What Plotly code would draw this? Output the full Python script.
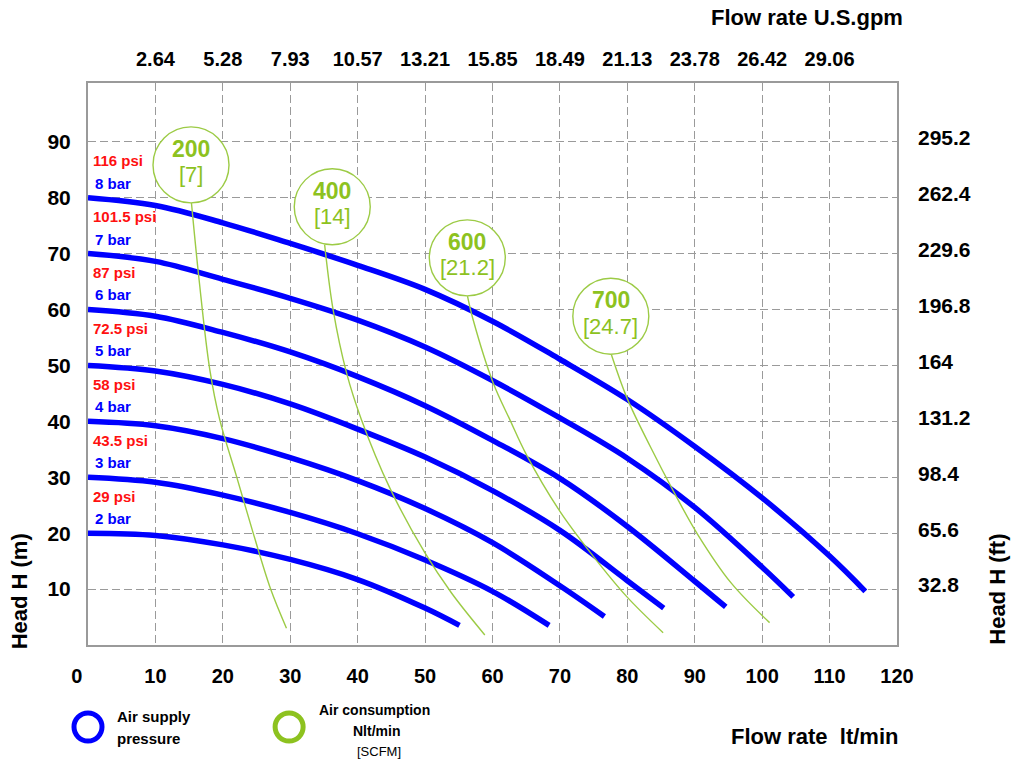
import plotly.graph_objects as go

# ---------------- data ----------------
flow_ticks = [0, 10, 20, 30, 40, 50, 60, 70, 80, 90, 100, 110, 120]
flow_tick_labels = ["0&nbsp;&nbsp;&nbsp;&nbsp;", "10", "20", "30", "40", "50", "60",
                    "70", "80", "90", "100", "110", "120"]
gpm_ticks = [10, 20, 30, 40, 50, 60, 70, 80, 90, 100, 110]
gpm_labels = ["2.64", "5.28", "7.93", "10.57", "13.21", "15.85", "18.49",
              "21.13", "23.78", "26.42", "29.06"]
head_ticks = [10, 20, 30, 40, 50, 60, 70, 80, 90]
ft_ticks = [32.8, 65.6, 98.4, 131.2, 164, 196.8, 229.6, 262.4, 295.2]
ft_labels = ["32.8", "65.6", "98.4", "131.2", "164", "196.8", "229.6", "262.4", "295.2"]

# air supply pressure curves (flow lt/min, head m)
q_8bar = [0, 10, 20, 30, 40, 50, 60, 70, 80, 90, 100, 110, 115.3]
h_8bar = [80, 78.6, 75.5, 71.8, 67.9, 63.6, 57.9, 51.1, 43.9, 35.5, 26.3, 15.9, 9.6]
q_7bar = [0, 10, 20, 30, 40, 50, 60, 70, 80, 90, 100, 104.6]
h_7bar = [70, 68.6, 65.4, 62.0, 58.1, 53.3, 47.3, 40.6, 33.4, 24.6, 13.9, 8.6]
q_6bar = [0, 10, 20, 30, 40, 50, 60, 70, 80, 90, 94.6]
h_6bar = [60, 58.8, 55.9, 52.4, 48.0, 42.8, 36.6, 29.8, 21.2, 11.4, 6.8]
q_5bar = [0, 10, 20, 30, 40, 50, 60, 70, 80, 85.4]
h_5bar = [50, 49.0, 46.6, 43.1, 38.6, 33.6, 27.6, 20.5, 11.5, 6.6]
q_4bar = [0, 10, 20, 30, 40, 50, 60, 70, 76.6]
h_4bar = [40, 39.2, 36.9, 33.5, 29.4, 24.4, 18.3, 10.6, 5.1]
q_3bar = [0, 10, 20, 30, 40, 50, 60, 68.4]
h_3bar = [30, 29.1, 26.8, 23.7, 19.9, 15.2, 9.6, 3.5]
q_2bar = [0, 10, 20, 30, 40, 50, 55.1]
h_2bar = [20, 19.6, 17.9, 15.3, 11.7, 6.6, 3.5]

bar_labels = ["8 bar", "7 bar", "6 bar", "5 bar", "4 bar", "3 bar", "2 bar"]
psi_labels = ["116 psi", "101.5 psi", "87 psi", "72.5 psi", "58 psi", "43.5 psi", "29 psi"]
shutoff_head = [80, 70, 60, 50, 40, 30, 20]

# air consumption lines
q_air200 = [15.34, 16.47, 18.06, 19.54, 22.02, 24.48, 27.06, 29.44]
h_air200 = [79.1, 65.4, 49.3, 40.3, 30.2, 20.1, 10.1, 3.0]
q_air400 = [35.1, 36.35, 38.34, 40.56, 44.76, 49.96, 53.92, 58.86]
h_air400 = [71.6, 60.0, 48.7, 40.3, 28.1, 16.5, 9.3, 1.8]
q_air600 = [56.29, 57.12, 60.09, 62.57, 65.04, 70.0, 74.93, 79.88, 85.31]
h_air600 = [62.4, 58.2, 46.9, 40.3, 34.0, 23.9, 15.9, 8.7, 2.2]
q_air700 = [77.64, 79.97, 83.44, 86.93, 90.42, 95.39, 101.1]
h_air700 = [51.9, 44.1, 35.4, 27.3, 19.8, 11.1, 4.0]

air_bubble_q = [15.28, 36.23, 56.26, 77.55]
air_bubble_h = [85.85, 78.37, 69.23, 58.8]
air_nlt = ["200", "400", "600", "700"]
air_scfm = ["[7]", "[14]", "[21.2]", "[24.7]"]

# ---------------- style ----------------
BLUE = "#0000FF"
RED = "#FF1010"
GREEN_TXT = "#8DC21F"
GREEN_LINE = "#9CCB45"
GRID = "#9a9a9a"
FRAME = "#9a9a9a"
FONT = "Liberation Sans, Arial, sans-serif"

fig = go.Figure()

pressure_curves = [(q_8bar, h_8bar), (q_7bar, h_7bar), (q_6bar, h_6bar), (q_5bar, h_5bar),
                   (q_4bar, h_4bar), (q_3bar, h_3bar), (q_2bar, h_2bar)]
for (q, h), name in zip(pressure_curves, bar_labels):
    fig.add_trace(go.Scatter(x=q, y=h, mode="lines", name=name,
                             line=dict(color=BLUE, width=5.5, shape="spline", smoothing=1.0),
                             hoverinfo="skip", showlegend=False))

air_curves = [(q_air200, h_air200), (q_air400, h_air400), (q_air600, h_air600), (q_air700, h_air700)]
for (q, h), name in zip(air_curves, air_nlt):
    fig.add_trace(go.Scatter(x=q, y=h, mode="lines", name=name,
                             line=dict(color=GREEN_LINE, width=1.4, shape="spline", smoothing=1.0),
                             hoverinfo="skip", showlegend=False))

fig.add_trace(go.Scatter(x=air_bubble_q, y=air_bubble_h, mode="markers",
                         marker=dict(size=76, color="white", symbol="circle",
                                     line=dict(color=GREEN_LINE, width=1.4)),
                         hoverinfo="skip", showlegend=False, cliponaxis=False))

# secondary axes carriers (invisible)
fig.add_trace(go.Scatter(x=[0, 120], y=[None, None], xaxis="x2", yaxis="y2",
                         mode="lines", showlegend=False, hoverinfo="skip"))

annotations = []
for q, h, t1, t2 in zip(air_bubble_q, air_bubble_h, air_nlt, air_scfm):
    annotations.append(dict(x=q, y=h, xref="x", yref="y", text="<b>" + t1 + "</b>",
                            showarrow=False, yshift=16, xanchor="center", yanchor="middle",
                            font=dict(family=FONT, size=23, color=GREEN_TXT)))
    annotations.append(dict(x=q, y=h, xref="x", yref="y", text=t2,
                            showarrow=False, yshift=-10, xanchor="center", yanchor="middle",
                            font=dict(family=FONT, size=22, color=GREEN_TXT)))

for h0, psi, bar in zip(shutoff_head, psi_labels, bar_labels):
    annotations.append(dict(x=0.45, y=h0 + 6.6, xref="x", yref="y", text="<b>" + psi + "</b>",
                            showarrow=False, xanchor="left", yanchor="middle",
                            font=dict(family=FONT, size=15, color=RED)))
    annotations.append(dict(x=0.8, y=h0 + 2.6, xref="x", yref="y", text="<b>" + bar + "</b>",
                            showarrow=False, xanchor="left", yanchor="middle",
                            font=dict(family=FONT, size=15, color=BLUE)))

title_font = dict(family=FONT, size=22, color="black")
annotations += [
    dict(x=1.0099, y=1.1162, xref="paper", yref="paper", text="<b>Flow rate U.S.gpm</b>",
         showarrow=False, xanchor="right", yanchor="middle", font=title_font),
    dict(x=1.0036, y=-0.1632, xref="paper", yref="paper", text="<b>Flow rate  lt/min</b>",
         showarrow=False, xanchor="right", yanchor="middle", font=title_font),
    dict(x=-0.0845, y=0.0948, xref="paper", yref="paper", text="<b>Head H (m)</b>",
         showarrow=False, textangle=-90, xanchor="center", yanchor="middle", font=title_font),
    dict(x=1.1249, y=0.0984, xref="paper", yref="paper", text="<b>Head H (ft)</b>",
         showarrow=False, textangle=-90, xanchor="center", yanchor="middle", font=title_font),
    dict(x=0.0330, y=-0.127, xref="paper", yref="paper", text="<b>Air supply</b>",
         showarrow=False, xanchor="left", yanchor="middle",
         font=dict(family=FONT, size=15, color="black")),
    dict(x=0.0330, y=-0.1655, xref="paper", yref="paper", text="<b>pressure</b>",
         showarrow=False, xanchor="left", yanchor="middle",
         font=dict(family=FONT, size=15, color="black")),
    dict(x=0.2828, y=-0.1164, xref="paper", yref="paper", text="<b>Air consumption</b>",
         showarrow=False, xanchor="left", yanchor="middle",
         font=dict(family=FONT, size=14, color="black")),
    dict(x=0.3565, y=-0.1537, xref="paper", yref="paper", text="<b>Nlt/min</b>",
         showarrow=False, xanchor="center", yanchor="middle",
         font=dict(family=FONT, size=14, color="black")),
    dict(x=0.3595, y=-0.1893, xref="paper", yref="paper", text="[SCFM]",
         showarrow=False, xanchor="center", yanchor="middle",
         font=dict(family=FONT, size=13, color="black")),
]

shapes = []
for cx, col in [(0.0, BLUE), (0.2486, "#8DC21F")]:
    shapes.append(dict(type="circle", xref="paper", yref="paper",
                       xsizemode="pixel", ysizemode="pixel",
                       xanchor=cx, yanchor=-0.1459,
                       x0=-14, x1=14, y0=-14, y1=14,
                       line=dict(color=col, width=5), fillcolor="rgba(0,0,0,0)"))

tick_font = dict(family=FONT, size=20, color="black", weight="bold")
yrange = [0, 100.5]
fig.update_layout(
    width=1013, height=760,
    margin=dict(l=88, r=116, t=83, b=115),
    paper_bgcolor="white", plot_bgcolor="white",
    showlegend=False,
    annotations=annotations,
    shapes=shapes,
    xaxis=dict(range=[0, 120], tickvals=flow_ticks, ticktext=flow_tick_labels,
               tickfont=tick_font, ticks="", ticklabelstandoff=12,
               showgrid=True, gridcolor=GRID, griddash="8px,4px", gridwidth=1.2,
               zeroline=False, showline=True, linecolor=FRAME, linewidth=2, mirror=True),
    xaxis2=dict(range=[0, 120], overlaying="x", side="top", tickvals=gpm_ticks,
                ticktext=gpm_labels, tickfont=tick_font, ticks="", ticklabelstandoff=12,
                showgrid=False, zeroline=False, showline=False),
    yaxis=dict(range=yrange, tickvals=head_ticks, tickfont=dict(family=FONT, size=21, color="black", weight="bold"),
               ticks="", ticklabelstandoff=11,
               showgrid=True, gridcolor=GRID, griddash="8px,4px", gridwidth=1.2,
               zeroline=False, showline=True, linecolor=FRAME, linewidth=2, mirror=True),
    yaxis2=dict(range=[yrange[0] * 3.28 - 2.35, yrange[1] * 3.28 - 2.35], overlaying="y", side="right",
                tickvals=ft_ticks, ticktext=ft_labels,
                tickfont=dict(family=FONT, size=21, color="black", weight="bold"),
                ticks="", ticklabelstandoff=20, showgrid=False, zeroline=False, showline=False),
)

fig.write_html("out.html", config={"displayModeBar": False},
               post_script=["document.body.style.margin='0';document.body.style.overflow='hidden';"])
